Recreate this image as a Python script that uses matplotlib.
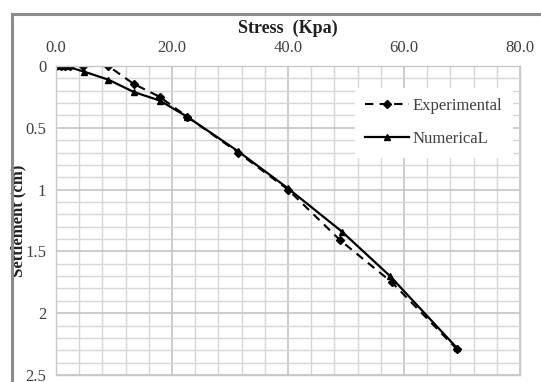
import matplotlib
matplotlib.use("Agg")
import matplotlib.pyplot as plt
from matplotlib.ticker import MultipleLocator, FormatStrFormatter
from matplotlib.patches import Rectangle

plt.rcParams['font.family'] = ['Liberation Serif', 'DejaVu Serif']

exp_stress = [0.0, 0.8, 1.6, 2.4, 4.7, 9.0, 13.4, 17.9, 22.6, 31.4, 40.0, 49.0, 57.9, 69.1]
exp_settle = [0.0, 0.0, 0.0, 0.0, 0.0, 0.0, 0.145, 0.25, 0.41, 0.70, 1.00, 1.41, 1.75, 2.29]

num_stress = [0.0, 1.5, 4.8, 9.0, 13.4, 17.9, 22.6, 31.4, 40.0, 49.3, 57.6, 69.1]
num_settle = [0.0, 0.0, 0.045, 0.11, 0.21, 0.28, 0.41, 0.69, 0.99, 1.34, 1.70, 2.28]

x_ticks = [0, 20, 40, 60, 80]
y_ticks = [0, 0.5, 1, 1.5, 2, 2.5]
y_ticklabels = ["0", "0.5", "1", "1.5", "2", "2.5"]

W, H = 541, 382
fig = plt.figure(figsize=(W / 100, H / 100), dpi=100)
fig.patch.set_facecolor("white")

# outer gray frame
fig.patches.append(Rectangle((12 / W, -0.05), 1.1, (H - 14) / H + 0.05,
                             transform=fig.transFigure, fill=False,
                             edgecolor="#8c8c8c", linewidth=2.2))

ax = fig.add_axes([56 / W, 1 - 375 / H, (520 - 56) / W, (375 - 66) / H])
ax.set_xlim(0, 80)
ax.set_ylim(2.5, 0)

ax.xaxis.set_minor_locator(MultipleLocator(4))
ax.yaxis.set_minor_locator(MultipleLocator(0.1))
ax.set_xticks(x_ticks)
ax.xaxis.set_major_formatter(FormatStrFormatter('%.1f'))
ax.set_yticks(y_ticks)
ax.set_yticklabels(y_ticklabels)

ax.xaxis.tick_top()
ax.xaxis.set_label_position('top')
ax.tick_params(axis='both', which='both', length=0, labelsize=12, colors="#404040")
ax.tick_params(axis='x', pad=7.5)
ax.tick_params(axis='y', pad=7)

ax.grid(which='minor', color='#d6d6d6', linewidth=1.0)
ax.grid(which='major', color='#c4c4c4', linewidth=1.2)
ax.set_axisbelow(True)
for s in ax.spines.values():
    s.set_color('#c8c8c8')
    s.set_linewidth(1.0)

ax.plot(exp_stress, exp_settle, linestyle=(0, (4, 3)), color='black', linewidth=1.5,
        marker='D', markersize=4, label='Experimental')
ax.plot(num_stress, num_settle, linestyle='-', color='black', linewidth=1.6,
        marker='^', markersize=5, label='NumericaL')

ax.set_xlabel('Stress  (Kpa)', fontsize=13, fontweight='bold', labelpad=5, color='#202020')
ax.set_ylabel('Settlement (cm)', fontsize=12, fontweight='bold', color='#202020')
ax.yaxis.set_label_coords(-0.064, 0.5)

leg = ax.legend(loc='upper right', bbox_to_anchor=(1.0, 0.955), frameon=True,
                fontsize=12, handlelength=2.6, labelspacing=1.0, borderpad=0.6,
                handletextpad=0.2)
leg.get_frame().set_edgecolor('white')
leg.get_frame().set_facecolor('white')
leg.get_frame().set_alpha(1)
for t in leg.get_texts():
    t.set_color('#404040')

fig.savefig('out.png', dpi=100)
